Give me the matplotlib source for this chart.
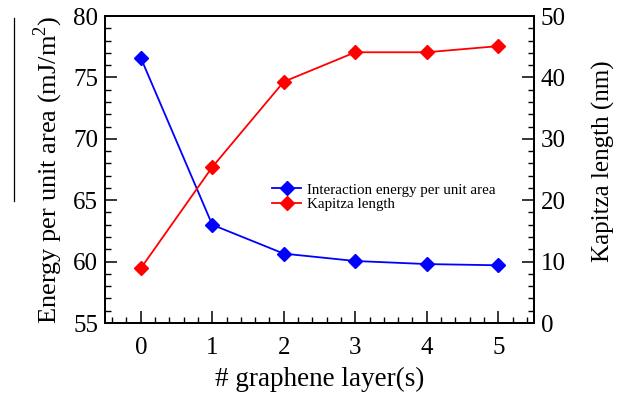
import matplotlib
matplotlib.use("Agg")
import matplotlib.pyplot as plt
from matplotlib.ticker import MultipleLocator
from matplotlib.lines import Line2D

plt.rcParams["font.family"] = ["Liberation Serif", "DejaVu Serif"]
plt.rcParams["mathtext.fontset"] = "custom"
plt.rcParams["mathtext.rm"] = "Liberation Serif"

layers = [0, 1, 2, 3, 4, 5]
energy = [76.6, 63.0, 60.65, 60.05, 59.8, 59.7]
kapitza = [8.9, 25.4, 39.3, 44.1, 44.1, 45.1]

fig = plt.figure(figsize=(6.27, 4.01), dpi=100)
ax = fig.add_axes([0.1675, 0.1945, 0.6842, 0.7655])
ax2 = ax.twinx()

l1, = ax.plot(layers, energy, color="#0000ff", lw=1.3, marker="D", ms=7.6,
              label="Interaction energy per unit area")
l2, = ax2.plot(layers, kapitza, color="#ff0000", lw=1.3, marker="D", ms=7.6,
               label="Kapitza length")

ax.set_xlim(-0.5, 5.5)
ax.set_ylim(55, 80)
ax2.set_ylim(0, 50)
ax.xaxis.set_major_locator(MultipleLocator(1))
ax.xaxis.set_minor_locator(MultipleLocator(0.2))
ax.yaxis.set_major_locator(MultipleLocator(5))
ax.yaxis.set_minor_locator(MultipleLocator(1))
ax2.yaxis.set_major_locator(MultipleLocator(10))
ax2.yaxis.set_minor_locator(MultipleLocator(2))

for a in (ax, ax2):
    a.tick_params(which="major", direction="in", length=8.5, width=1.1, labelsize=18)
    a.tick_params(which="minor", direction="in", length=4.5, width=1.0)
    for s in a.spines.values():
        s.set_linewidth(1.4)
ax.tick_params(axis="x", which="both", top=False, pad=10)
ax.tick_params(axis="y", which="both", right=False, pad=5)
ax2.tick_params(axis="y", which="both", pad=5)

ax.set_xlabel("# graphene layer(s)", fontsize=19.5, labelpad=6)
ax.set_ylabel("Energy per unit area (mJ/m$^2$)", fontsize=19, labelpad=6)
ax2.set_ylabel("Kapitza length (nm)", fontsize=18, labelpad=19)
ax2.yaxis.label.set_y(0.526)

ax.legend(handles=[l1, l2], loc="upper left", bbox_to_anchor=(0.376, 0.475),
          frameon=False, fontsize=10.8, handlelength=1.9, handletextpad=0.4,
          labelspacing=0.05, borderaxespad=0)

# stray rule left of the y label, as in the source image
fig.add_artist(Line2D([0.023, 0.023], [0.955, 0.50], color="black", lw=0.9))

fig.savefig("out.png", dpi=100)
